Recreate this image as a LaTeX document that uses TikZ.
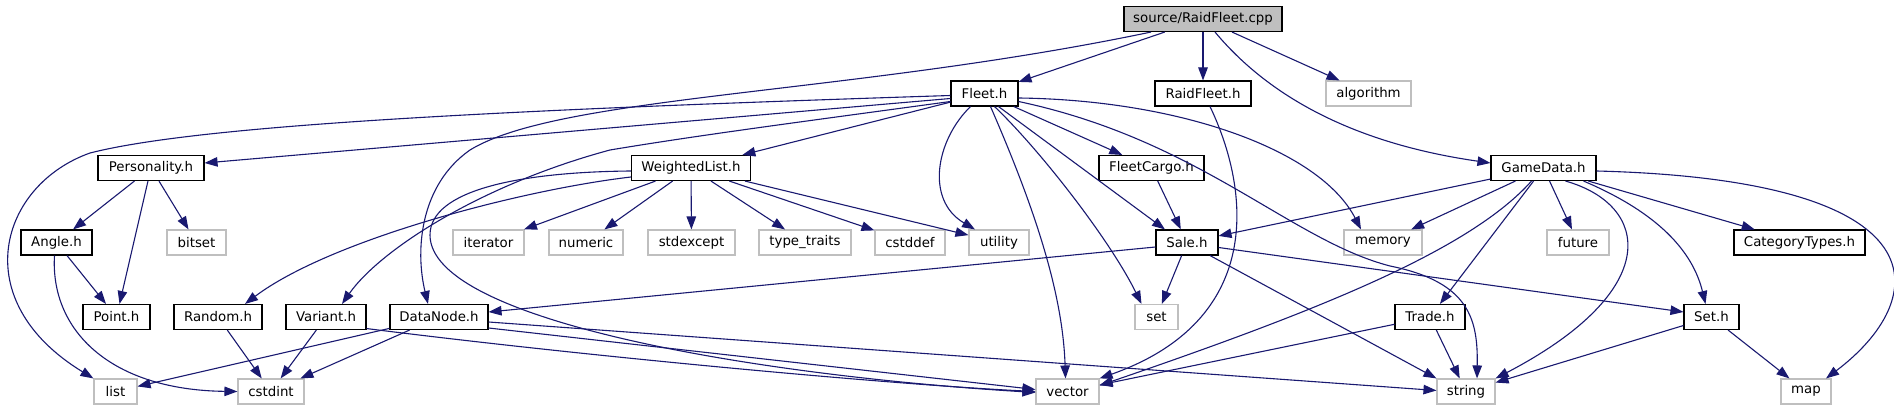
\documentclass[tikz,border=0pt]{standalone}
\usepackage{fontspec}
\setmainfont{DejaVu Sans}
\usetikzlibrary{arrows.meta}

\definecolor{edgeblue}{HTML}{191970}
\definecolor{grey75}{HTML}{BFBFBF}

\tikzset{
    filebox/.style={minimum height=25pt, inner sep=0pt, line width=1.1pt,
        font=\fontsize{13.33}{16}\selectfont},
    hfile/.style={filebox, draw=black, fill=white},
    sysfile/.style={filebox, draw=grey75, fill=white},
    srcfile/.style={filebox, draw=black, fill=grey75},
    dep/.style={draw=edgeblue, line width=1.1pt, -{Triangle[length=13pt,width=9.5pt]}}
}

\begin{document}
\begin{tikzpicture}[x=1pt,y=-1pt]
    \useasboundingbox (0,0) rectangle (1894,411);

    % Root file
    \node[srcfile, minimum width=158] (cpp) at (1203,19) {source/RaidFleet.cpp};

    % Included files: style / name / x / y / width / label
    \foreach \st/\nm/\x/\y/\w/\lbl in {
        hfile/fleet/984.5/93.5/67/Fleet.h,
        hfile/raidfleeth/1203/93.5/96/RaidFleet.h,
        sysfile/algorithm/1368.5/93.5/85/algorithm,
        hfile/personality/151/168/106/Personality.h,
        hfile/weightedlist/691/168/119/WeightedList.h,
        hfile/fleetcargo/1151.5/168/105/FleetCargo.h,
        hfile/gamedata/1543.5/168/105/GameData.h,
        hfile/angle/56.5/242.5/71/Angle.h,
        sysfile/bitset/196.5/242.5/59/bitset,
        sysfile/iterator/488.5/242.5/71/iterator,
        sysfile/numeric/586/242.5/74/numeric,
        sysfile/stdexcept/691.5/242.5/87/stdexcept,
        sysfile/typetraits/805/242.5/92/type\_traits,
        sysfile/cstddef/910/242.5/70/cstddef,
        sysfile/utility/999/242.5/60/utility,
        hfile/sale/1187/242.5/62/Sale.h,
        sysfile/memory/1383/242.5/78/memory,
        sysfile/future/1578/242.5/62/future,
        hfile/categorytypes/1799.5/242.5/131/CategoryTypes.h,
        hfile/point/116.5/317/67/Point.h,
        hfile/random/218/317/88/Random.h,
        hfile/variant/326/317/80/Variant.h,
        hfile/datanode/439/317/98/DataNode.h,
        sysfile/set/1156.5/317/43/set,
        hfile/trade/1430/317/70/Trade.h,
        hfile/seth/1711.5/317/55/Set.h,
        sysfile/list/115.5/391.5/43/list,
        sysfile/cstdint/271/391.5/66/cstdint,
        sysfile/vector/1067.5/391.5/63/vector,
        sysfile/string/1466/391.5/58/string,
        sysfile/map/1806/391.5/50/map
    }
        \node[\st, minimum width=\w] (\nm) at (\x,\y) {\lbl};

    % RaidFleet.cpp
    \draw[dep] (cpp) -- (fleet);
    \draw[dep] (cpp) -- (raidfleeth);
    \draw[dep] (cpp) -- (algorithm);
    \draw[dep] ([xshift=12pt]cpp.south) .. controls (1255,80) and (1330,140) .. ([yshift=5pt]gamedata.west);
    \draw[dep] ([xshift=-52pt]cpp.south) .. controls (850,95) and (560,95) .. (470,150)
        .. controls (420,185) and (415,250) .. ([xshift=-11pt]datanode.north);

    % Fleet.h
    \draw[dep] ([yshift=-5pt]fleet.west) -- ([yshift=5pt]personality.east);
    \draw[dep] ([yshift=-2pt]fleet.west) .. controls (500,110) and (200,125) .. (90,153)
        .. controls (0,185) and (-35,300) .. (list.north west);
    \draw[dep] (fleet) -- (weightedlist);
    \draw[dep] ([yshift=-8pt]fleet.west) .. controls (800,122) and (700,135) .. (610,150)
        .. controls (480,185) and (380,250) .. ([xshift=16pt]variant.north);
    \draw[dep] ([xshift=-14pt]fleet.south) .. controls (936,140) and (925,200) .. ([xshift=-24pt]utility.north);
    \draw[dep] ([xshift=6pt]fleet.south) .. controls (1040,220) and (1063,300) .. ([xshift=-2pt]vector.north);
    \draw[dep] ([xshift=10pt]fleet.south) .. controls (1040,150) and (1110,240) .. ([xshift=-15pt]set.north);
    \draw[dep] ([xshift=14pt]fleet.south) -- ([xshift=-22pt]sale.north);
    \draw[dep] (fleet) -- (fleetcargo);
    \draw[dep] ([yshift=-4.5pt]fleet.east) .. controls (1180,100) and (1320,150) .. ([xshift=-22pt]memory.north);
    \draw[dep] ([yshift=-8pt]fleet.east) .. controls (1200,140) and (1290,240) .. (1390,266)
        .. controls (1470,282) and (1478,320) .. ([xshift=11pt]string.north);

    % RaidFleet.h, FleetCargo.h
    \draw[dep] ([xshift=7pt]raidfleeth.south) .. controls (1250,190) and (1265,320) .. (vector.north east);
    \draw[dep] (fleetcargo) -- (sale);

    % Sale.h
    \draw[dep] (sale) -- (set);
    \draw[dep] ([yshift=-4.5pt]sale.west) -- ([yshift=5pt]datanode.east);
    \draw[dep] ([yshift=-5pt]sale.east) -- ([yshift=5pt]seth.west);
    \draw[dep] ([xshift=23pt]sale.south) -- (string.north west);

    % GameData.h
    \draw[dep] (gamedata) -- (sale);
    \draw[dep] (gamedata) -- (memory);
    \draw[dep] ([xshift=-12pt]gamedata.south) .. controls (1470,250) and (1320,310) .. ([yshift=6pt]vector.east);
    \draw[dep] (gamedata) -- (trade);
    \draw[dep] (gamedata) -- (future);
    \draw[dep] ([xshift=22pt]gamedata.south) .. controls (1650,205) and (1665,290) .. (string.north east);
    \draw[dep] ([xshift=40pt]gamedata.south) .. controls (1640,205) and (1690,240) .. ([xshift=-6pt]seth.north);
    \draw[dep] (gamedata) -- (categorytypes);
    \draw[dep] ([yshift=-3pt]gamedata.east) .. controls (1950,180) and (1930,300) .. ([xshift=20pt]map.north);

    % Set.h, Trade.h
    \draw[dep] (seth) -- (string);
    \draw[dep] (seth) -- (map);
    \draw[dep] (trade) -- (string);
    \draw[dep] (trade) -- (vector);

    % Personality.h, Angle.h, Random.h
    \draw[dep] (personality) -- (angle);
    \draw[dep] (personality) -- (point);
    \draw[dep] (personality) -- (bitset);
    \draw[dep] (angle) -- (point);
    \draw[dep] ([xshift=-2pt]angle.south) .. controls (50,330) and (110,390) .. (cstdint.west);
    \draw[dep] (random) -- (cstdint);

    % WeightedList.h
    \draw[dep] ([yshift=-3pt]weightedlist.west) .. controls (520,172) and (430,190) .. (430,235)
        .. controls (430,320) and (750,375) .. ([yshift=-1pt]vector.west);
    \draw[dep] ([yshift=-9pt]weightedlist.west) .. controls (520,190) and (330,240) .. ([xshift=27pt]random.north);
    \foreach \hdr in {iterator,numeric,stdexcept,typetraits,cstddef,utility}
        \draw[dep] (weightedlist) -- (\hdr);

    % Variant.h, DataNode.h
    \draw[dep] (variant) -- (cstdint);
    \draw[dep] ([yshift=1.5pt]variant.south east) .. controls (600,358) and (900,385) .. (vector.west);
    \draw[dep] (datanode) -- (list);
    \draw[dep] (datanode) -- (cstdint);
    \draw[dep] ([yshift=-5pt]datanode.east) -- ([yshift=1pt]string.west);
    \draw[dep] ([yshift=-11pt]datanode.east) -- ([yshift=2pt]vector.west);
\end{tikzpicture}
\end{document}
